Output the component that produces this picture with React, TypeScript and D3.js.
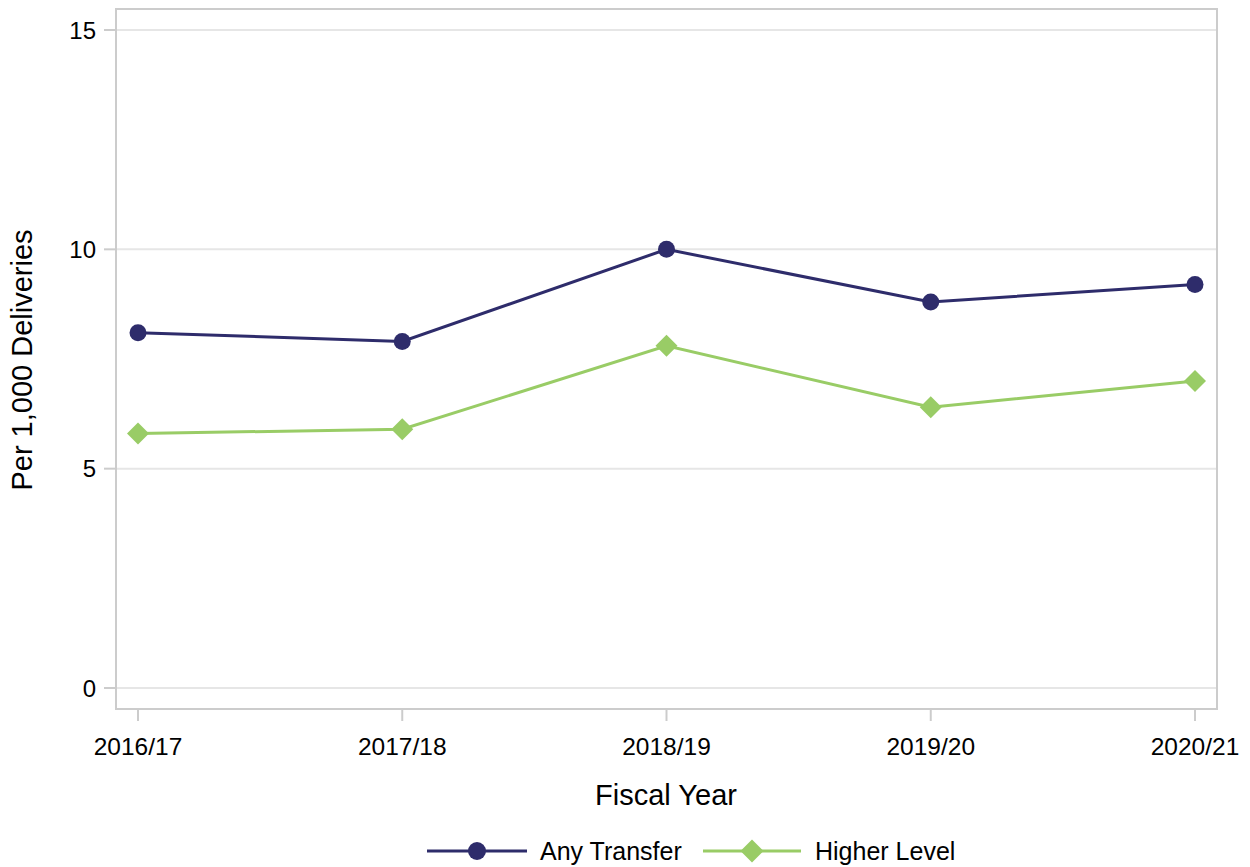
import React from "react";
import * as d3 from "d3";

const years = ["2016/17", "2017/18", "2018/19", "2019/20", "2020/21"];
const anyTransfer = [8.1, 7.9, 10.0, 8.8, 9.2];
const higherLevel = [5.8, 5.9, 7.8, 6.4, 7.0];
const yTicks = [0, 5, 10, 15];

const W = 1250, H = 867;
const frame = { left: 116, right: 1217, top: 9, bottom: 709 };
const NAVY = "#2E2C6B";
const GREEN = "#99CC66";
const FONT = "'Liberation Sans', Arial, sans-serif";

export default function App() {
  const x = d3.scalePoint<string>().domain(years).range([138, 1195]);
  const y = d3.scaleLinear().domain([0, 15]).range([688, 30]);
  const line = d3.line<number>().x((_, i) => x(years[i])!).y((d) => y(d));
  const diamond = (cx: number, cy: number, s: number) =>
    `M${cx},${cy - s}L${cx + s},${cy}L${cx},${cy + s}L${cx - s},${cy}Z`;

  return (
    <svg width={W} height={H} style={{ position: "absolute", left: 0, top: 0, background: "#fff" }} fontFamily={FONT}>
      {yTicks.map((t) => (
        <g key={t}>
          <line x1={frame.left} x2={frame.right} y1={y(t)} y2={y(t)} stroke="#E6E6E6" strokeWidth={2} />
          <line x1={104} x2={frame.left} y1={y(t)} y2={y(t)} stroke="#CCCCCC" strokeWidth={2} />
          <text x={96} y={y(t)} dy="0.36em" textAnchor="end" fontSize={24} fill="#000">{t}</text>
        </g>
      ))}
      {years.map((yr) => (
        <g key={yr}>
          <line x1={x(yr)} x2={x(yr)} y1={frame.bottom} y2={721} stroke="#CCCCCC" strokeWidth={2} />
          <text x={x(yr)} y={755} textAnchor="middle" fontSize={24.5} fill="#000">{yr}</text>
        </g>
      ))}
      <rect x={frame.left} y={frame.top} width={frame.right - frame.left} height={frame.bottom - frame.top}
        fill="none" stroke="#CCCCCC" strokeWidth={2} />
      <path d={line(anyTransfer)!} fill="none" stroke={NAVY} strokeWidth={3} />
      <path d={line(higherLevel)!} fill="none" stroke={GREEN} strokeWidth={3} />
      {anyTransfer.map((v, i) => (
        <circle key={"a" + i} cx={x(years[i])} cy={y(v)} r={8.5} fill={NAVY} />
      ))}
      {higherLevel.map((v, i) => (
        <path key={"h" + i} d={diamond(x(years[i])!, y(v), 11)} fill={GREEN} />
      ))}
      <text x={666} y={805} textAnchor="middle" fontSize={29} fill="#000">Fiscal Year</text>
      <text transform={`translate(32,360) rotate(-90)`} textAnchor="middle" fontSize={29} fill="#000">Per 1,000 Deliveries</text>
      <g>
        <line x1={427} x2={527} y1={851} y2={851} stroke={NAVY} strokeWidth={3} />
        <circle cx={477} cy={851} r={9} fill={NAVY} />
        <text x={540} y={851} dy="0.36em" fontSize={25} fill="#000">Any Transfer</text>
        <line x1={703} x2={801} y1={851} y2={851} stroke={GREEN} strokeWidth={3} />
        <path d={diamond(752, 851, 11.5)} fill={GREEN} />
        <text x={815} y={851} dy="0.36em" fontSize={25} fill="#000">Higher Level</text>
      </g>
    </svg>
  );
}
